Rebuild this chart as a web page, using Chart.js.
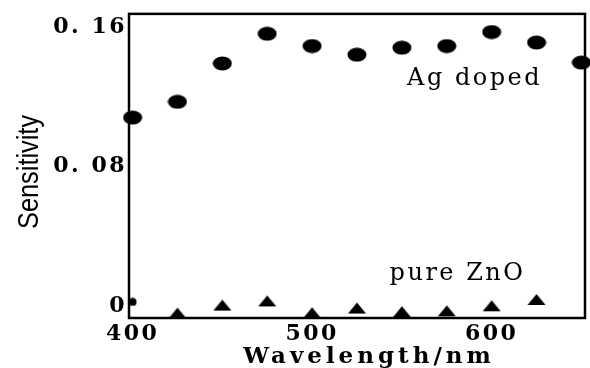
<!DOCTYPE html>
<html><head><meta charset="utf-8">
<script src="https://cdn.jsdelivr.net/npm/chart.js@4"></script>
<style>html,body{margin:0;padding:0;background:#fff}#wrap{width:590px;height:368px}</style>
</head><body><div id="wrap"><canvas id="c" width="590" height="368"></canvas></div>
<script>
const wavelengths = [400, 425, 450, 475, 500, 525, 550, 575, 600, 625, 650];
const agDoped = [0.108, 0.117, 0.139, 0.156, 0.149, 0.144, 0.148, 0.149, 0.157, 0.151, 0.1395];
const znoWavelengths = [400, 425, 450, 475, 500, 525, 550, 575, 600, 625];
const pureZnO = [0.0024, -0.004, 0.0006, 0.003, -0.0038, -0.0011, -0.0032, -0.0027, 0.0002, 0.0038];
const xTicks = [400, 500, 600];
const yTicks = [0, 0.08, 0.16];
const yTickLabels = ['0', '0. 08', '0. 16'];
const seriesLabels = ['Ag doped', 'pure ZnO'];
const labelAnchors = [[590.5, 0.1304], [581, 0.0188]];
const xTitle = 'Wavelength/nm';
const yTitle = 'Sensitivity';

const serif = '"DejaVu Serif", "Liberation Serif", serif';

function makeEllipse(w, h) {
  const c = document.createElement('canvas');
  c.width = w; c.height = h;
  const g = c.getContext('2d');
  g.fillStyle = '#000';
  g.beginPath(); g.ellipse(w / 2, h / 2, w / 2 - 0.5, h / 2 - 0.5, 0, 0, Math.PI * 2); g.fill();
  return c;
}
function makeTriangle(w, h) {
  const c = document.createElement('canvas');
  c.width = w; c.height = h;
  const g = c.getContext('2d');
  g.fillStyle = '#000';
  g.beginPath(); g.moveTo(w / 2, 1); g.lineTo(w - 1, h - 1); g.lineTo(1, h - 1); g.closePath(); g.fill();
  return c;
}
const dotImg = makeEllipse(20, 15);
const triImg = makeTriangle(20, 13);
const smallDot = makeEllipse(9, 9);

const framePlugin = {
  id: 'frame',
  beforeUpdate(chart) { chart.ctx.letterSpacing = '2.5px'; },
  beforeDraw(chart) { chart.ctx.letterSpacing = '2.5px'; },
  afterDatasetsDraw(chart) {
    const {ctx, chartArea: a} = chart;
    ctx.save();
    ctx.strokeStyle = '#000';
    ctx.lineWidth = 2.5;
    ctx.strokeRect(a.left, a.top, a.right - a.left, a.bottom - a.top);
    ctx.restore();
  },
  afterDraw(chart) {
    const {ctx, chartArea: a, scales: {x, y}} = chart;
    ctx.save();
    ctx.fillStyle = '#000';
    ctx.textAlign = 'center';
    ctx.textBaseline = 'middle';
    ctx.letterSpacing = '2.5px';
    ctx.font = '24px ' + serif;
    labelAnchors.forEach((p, i) => {
      ctx.fillText(seriesLabels[i], x.getPixelForValue(p[0]), y.getPixelForValue(p[1]));
    });
    // x axis title
    ctx.letterSpacing = '4px';
    ctx.font = 'bold 23px ' + serif;
    ctx.fillText(xTitle, (a.left + a.right) / 2 + 12, a.bottom + 39);
    // y axis title, condensed
    ctx.letterSpacing = '0px';
    ctx.font = '30px "Liberation Sans", Arial, sans-serif';
    const w = ctx.measureText(yTitle).width;
    ctx.translate(30, (a.top + a.bottom) / 2 + 6);
    ctx.rotate(-Math.PI / 2);
    ctx.scale(114 / w, 1);
    ctx.fillText(yTitle, 0, 0);
    ctx.restore();
    ctx.letterSpacing = '0px';
  }
};

new Chart(document.getElementById('c'), {
  type: 'scatter',
  data: {
    datasets: [
      {
        label: seriesLabels[0],
        data: wavelengths.map((w, i) => ({x: w, y: agDoped[i]})),
        pointStyle: dotImg,
        backgroundColor: '#000', borderColor: '#000', clip: false
      },
      {
        label: seriesLabels[1],
        data: znoWavelengths.map((w, i) => ({x: w, y: pureZnO[i]})),
        pointStyle: znoWavelengths.map((w, i) => i === 0 ? smallDot : triImg),
        backgroundColor: '#000', borderColor: '#000', clip: false
      }
    ]
  },
  options: {
    responsive: false,
    animation: false,
    devicePixelRatio: 1,
    layout: {padding: {top: 6, right: 5, left: 0, bottom: 0}},
    plugins: {legend: {display: false}, tooltip: {enabled: false}},
    scales: {
      x: {
        type: 'linear', min: 398, max: 652,
        afterBuildTicks: s => { s.ticks = xTicks.map(v => ({value: v})); },
        grid: {display: false, drawTicks: false},
        border: {display: false},
        ticks: {color: '#000', font: {family: serif, size: 22, weight: 'bold'}, padding: 3, maxRotation: 0,
                callback: v => String(v)},
        title: {display: false},
        afterFit: s => { s.height = 50; }
      },
      y: {
        type: 'linear', min: -0.0068, max: 0.1674,
        afterBuildTicks: s => { s.ticks = yTicks.map(v => ({value: v})); },
        grid: {display: false, drawTicks: false},
        border: {display: false},
        ticks: {color: '#000', font: {family: serif, size: 22, weight: 'bold', lineHeight: 1.08}, padding: 2,
                callback: (v) => { const i = yTicks.indexOf(v); return i >= 0 ? yTickLabels[i] : ''; }},
        title: {display: false},
        afterFit: s => { s.width = 129; }
      }
    }
  },
  plugins: [framePlugin]
});
</script>
</body></html>
